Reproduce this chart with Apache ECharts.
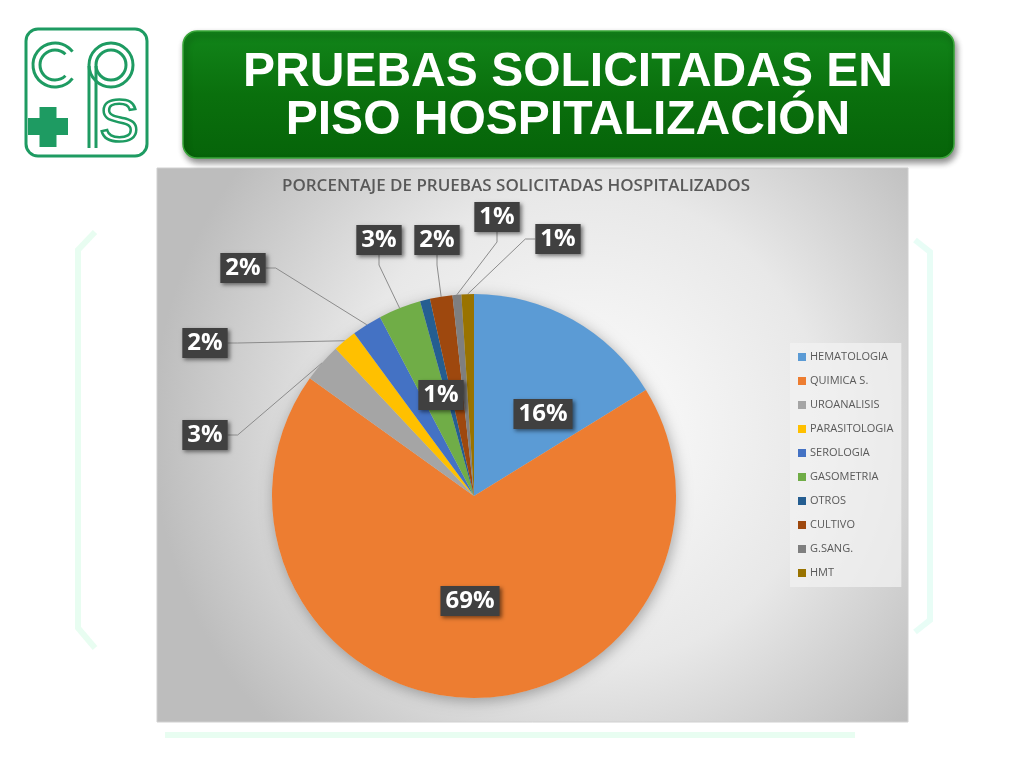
<!DOCTYPE html>
<html>
<head>
<meta charset="utf-8">
<script src="https://cdn.jsdelivr.net/npm/echarts@6/dist/echarts.min.js"></script>
<style>
html,body{margin:0;padding:0;background:#fff;}
#chart{width:1024px;height:768px;}
</style>
</head>
<body>
<div id="chart"></div>
<script>
// ---- data ----
const categories = ['HEMATOLOGIA','QUIMICA S.','UROANALISIS','PARASITOLOGIA','SEROLOGIA','GASOMETRIA','OTROS','CULTIVO','G.SANG.','HMT'];
const values = [16.2, 68.7, 3.1, 1.9, 2.4, 3.4, 0.8, 1.8, 0.7, 1.0];
const colors = ['#5B9BD5','#ED7D31','#A5A5A5','#FFC000','#4472C4','#70AD47','#255E91','#9E480E','#7F7F7F','#997300'];
const slideTitle = 'PRUEBAS SOLICITADAS EN\nPISO HOSPITALIZACIÓN';
const chartTitle = 'PORCENTAJE DE PRUEBAS SOLICITADAS HOSPITALIZADOS';
const insideLabels = [0, 1, 6];

// ---- layout (label box centres, like the original Excel chart) ----
const labelCentres = [[543,414],[470,601],[205,435],[205,343],[243,268],[379,240],[441,395],[437,240],[497,217],[558,239]];

const green = '#1e9b62';
const chart = echarts.init(document.getElementById('chart'));

const pieData = categories.map((c, i) => {
  const item = { name: c, value: values[i], itemStyle: { color: colors[i] } };
  if (insideLabels.indexOf(i) >= 0) item.labelLine = { show: false };
  return item;
});

const option = {
  animation: false,
  backgroundColor: '#ffffff',
  graphic: [
    // faint decorative frame
    { type: 'polyline', z: 0, shape: { points: [[95,232],[78,250],[78,628],[95,648]] }, style: { stroke: 'rgba(205,250,225,0.45)', lineWidth: 6, fill: 'none' } },
    { type: 'polyline', z: 0, shape: { points: [[915,240],[930,252],[930,620],[915,632]] }, style: { stroke: 'rgba(205,250,235,0.45)', lineWidth: 6, fill: 'none' } },
    { type: 'line', z: 0, shape: { x1: 165, y1: 735, x2: 855, y2: 735 }, style: { stroke: 'rgba(205,250,225,0.45)', lineWidth: 6 } },
    // chart area background
    { type: 'rect', z: 0, shape: { x: 157, y: 168, width: 751, height: 554 },
      style: { fill: { type: 'radial', x: 0.57, y: 0.47, r: 0.78, colorStops: [{ offset: 0, color: '#fdfdfd' }, { offset: 0.55, color: '#e8e8e8' }, { offset: 1, color: '#bdbdbd' }] },
               stroke: '#d0d0d0', lineWidth: 1 } },
    // title box
    { type: 'rect', z: 1, shape: { x: 183, y: 31, width: 771, height: 127, r: 14 },
      style: { fill: { type: 'linear', x: 0, y: 0, x2: 0, y2: 1, colorStops: [{ offset: 0, color: '#12851a' }, { offset: 0.5, color: '#0a700d' }, { offset: 1, color: '#066409' }] },
               stroke: '#3aa63a', lineWidth: 1.5, shadowBlur: 6, shadowOffsetX: 2, shadowOffsetY: 4, shadowColor: 'rgba(0,0,0,0.45)' } },
    { type: 'text', z: 2, style: { text: slideTitle, x: 568, y: 97, fill: '#ffffff', font: 'bold 48px "Liberation Sans", Arial, sans-serif', align: 'center', verticalAlign: 'middle', lineHeight: 48 } },
    // logo
    { type: 'rect', z: 1, shape: { x: 26, y: 29, width: 121, height: 127, r: 12 }, style: { fill: 'none', stroke: green, lineWidth: 3 } },
    { type: 'arc', z: 1, shape: { cx: 55, cy: 65, r: 22, startAngle: 0.65, endAngle: Math.PI * 2 - 0.65, clockwise: true }, style: { stroke: green, lineWidth: 3, fill: 'none' } },
    { type: 'arc', z: 1, shape: { cx: 55, cy: 65, r: 15, startAngle: 0.8, endAngle: Math.PI * 2 - 0.8, clockwise: true }, style: { stroke: green, lineWidth: 3, fill: 'none' } },
    { type: 'arc', z: 1, shape: { cx: 111, cy: 65, r: 22, startAngle: 0, endAngle: Math.PI * 2, clockwise: true }, style: { stroke: green, lineWidth: 3, fill: 'none' } },
    { type: 'arc', z: 1, shape: { cx: 111, cy: 65, r: 15, startAngle: 0, endAngle: Math.PI * 2, clockwise: true }, style: { stroke: green, lineWidth: 3, fill: 'none' } },
    { type: 'line', z: 1, shape: { x1: 89, y1: 66, x2: 89, y2: 148 }, style: { stroke: green, lineWidth: 3 } },
    { type: 'line', z: 1, shape: { x1: 96, y1: 66, x2: 96, y2: 148 }, style: { stroke: green, lineWidth: 3 } },
    { type: 'rect', z: 1, shape: { x: 28, y: 118, width: 40, height: 17 }, style: { fill: green } },
    { type: 'rect', z: 1, shape: { x: 39.5, y: 107, width: 17, height: 40 }, style: { fill: green } },
    { type: 'text', z: 1, style: { text: 'S', x: 119, y: 124, font: '60px "Liberation Sans Narrow", "Liberation Sans", sans-serif', fill: 'none', stroke: green, lineWidth: 2.5, align: 'center', verticalAlign: 'middle' } },
    // chart title
    { type: 'text', z: 2, style: { text: chartTitle, x: 516, y: 186, fill: '#595959', font: '600 17px "Open Sans", sans-serif', align: 'center', verticalAlign: 'middle' } }
  ],
  legend: {
    orient: 'vertical',
    left: 790,
    top: 343,
    padding: [7, 8, 7, 8],
    backgroundColor: 'rgba(242,242,242,0.75)',
    itemWidth: 8,
    itemHeight: 8,
    itemGap: 10,
    icon: 'rect',
    data: categories,
    textStyle: { color: '#595959', fontSize: 11, lineHeight: 14, fontFamily: '"Open Sans", sans-serif', padding: [0, 0, 0, -1] },
    selectedMode: false
  },
  series: [
    {
      type: 'pie',
      silent: true,
      z: 1,
      center: [474, 496],
      radius: 202,
      label: { show: false },
      labelLine: { show: false },
      itemStyle: { color: '#cfcfcf', shadowBlur: 14, shadowOffsetX: 2, shadowOffsetY: 3, shadowColor: 'rgba(0,0,0,0.3)' },
      data: [{ value: 1, name: '' }],
      tooltip: { show: false }
    },
    {
      type: 'pie',
      z: 2,
      center: [474, 496],
      radius: 202,
      startAngle: 90,
      clockwise: true,
      avoidLabelOverlap: false,
      data: pieData,
      itemStyle: { borderWidth: 0 },
      label: {
        show: true,
        position: 'outside',
        formatter: p => Math.round(p.value) + '%',
        color: '#ffffff',
        fontSize: 24,
        fontWeight: 'bold',
        fontFamily: '"Open Sans", sans-serif',
        backgroundColor: '#404040',
        padding: [4, 5, 2, 5],
        shadowBlur: 4,
        shadowOffsetX: 2,
        shadowOffsetY: 2,
        shadowColor: 'rgba(0,0,0,0.5)'
      },
      labelLine: { show: true, length: 10, length2: 10, lineStyle: { color: '#8c8c8c', width: 1 } },
      labelLayout: function (params) {
        const c = labelCentres[params.dataIndex];
        return { x: c[0], y: c[1], align: 'center', verticalAlign: 'middle' };
      }
    }
  ]
};
chart.setOption(option);
</script>
</body>
</html>
